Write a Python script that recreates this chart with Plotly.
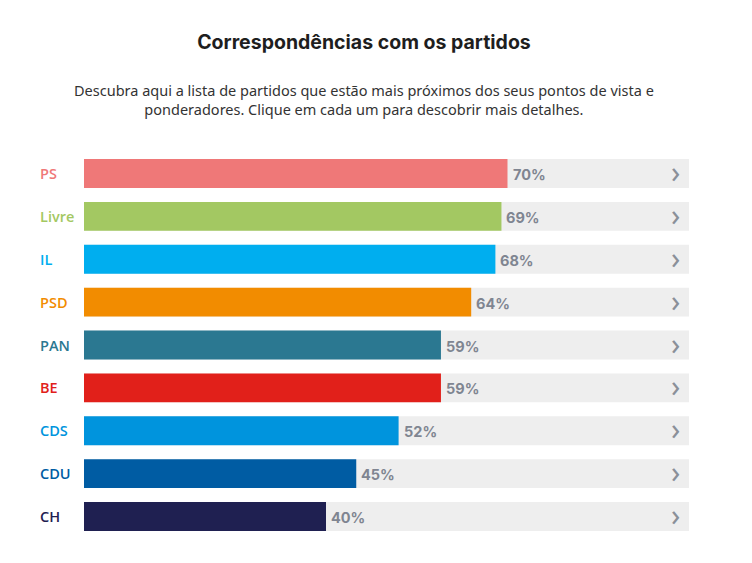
import plotly.graph_objects as go

parties = ["PS", "Livre", "IL", "PSD", "PAN", "BE", "CDS", "CDU", "CH"]
values = [70, 69, 68, 64, 59, 59, 52, 45, 40]
colors = ["#ef7878", "#a3c862", "#00aeef", "#f28c00", "#2b7891", "#e1201a", "#0094dd", "#005ca3", "#1f2051"]
full = [100] * len(parties)

W, H = 752, 563
L, R = 84, 689
T, B = 151.5, 538.5

fig = go.Figure()
fig.add_trace(go.Bar(y=parties, x=full, orientation="h", marker=dict(color="#eeeeee", line_width=0),
                     width=0.674, hoverinfo="skip", showlegend=False))
fig.add_trace(go.Bar(y=parties, x=values, orientation="h", marker=dict(color=colors, line_width=0),
                     width=0.674, showlegend=False))

ann = []
for p, v, c in zip(parties, values, colors):
    ann.append(dict(x=(40 - L) / (R - L), xref="paper", y=p, yref="y", text=p, showarrow=False,
                    xanchor="left", xshift=-2, font=dict(family="Open Sans", size=14.5, color=c, weight=600)))
    ann.append(dict(x=v, xref="x", y=p, yref="y", text=f"{v}%", showarrow=False, xanchor="left",
                    xshift=3, yshift=-1, font=dict(family="Inter", size=14.5, color="#7f8591", weight=700)))
    ann.append(dict(x=1, xref="paper", y=p, yref="y", text="›", showarrow=False, xanchor="right",
                    xshift=-7, yshift=2, font=dict(family="Noto Sans", size=30, color="#8a9099")))

cx = (364 - L) / (R - L)
ann.append(dict(x=cx, xref="paper", y=(B - 99) / (B - T), yref="paper", yanchor="middle", showarrow=False,
                text="Descubra aqui a lista de partidos que estão mais próximos dos seus pontos de vista e<br>ponderadores. Clique em cada um para descobrir mais detalhes.",
                align="center", font=dict(family="Noto Sans", size=14.5, color="#333333")))

fig.update_layout(
    width=W, height=H,
    margin=dict(l=L, r=W - R, t=T, b=H - B, pad=0),
    barmode="overlay",
    plot_bgcolor="white", paper_bgcolor="white",
    title=dict(text="<b>Correspondências com os partidos</b>", x=364 / W, xanchor="center",
               y=1 - 42 / H, yanchor="middle", yref="container",
               font=dict(family="Inter", size=19.5, color="#1e1e1e")),
    xaxis=dict(range=[0, 100], visible=False, fixedrange=True),
    yaxis=dict(autorange=False, range=[len(parties) - 0.5, -0.5], visible=False,
               categoryorder="array", categoryarray=parties, fixedrange=True),
    annotations=ann,
)
fig.write_html("out.html")
